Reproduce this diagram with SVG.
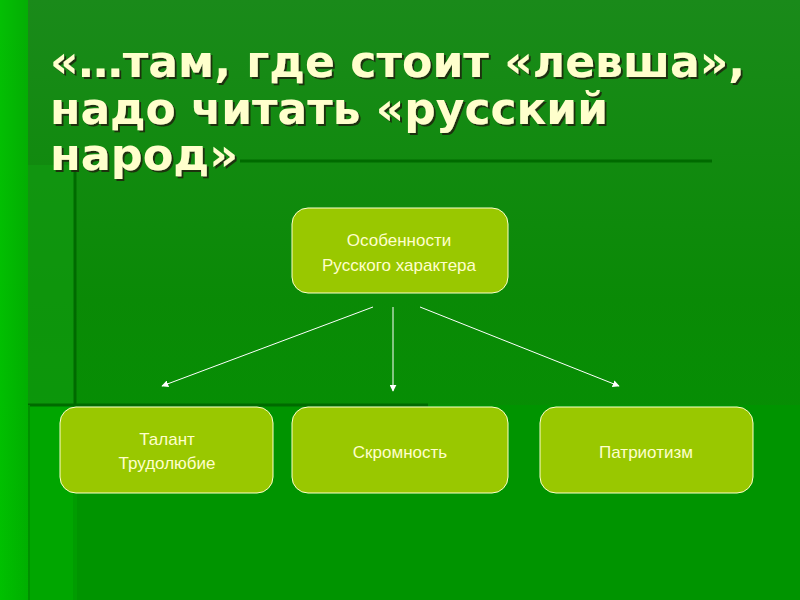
<svg xmlns="http://www.w3.org/2000/svg" width="800" height="600" viewBox="0 0 800 600">
<defs>
<linearGradient id="bg" x1="0" y1="0" x2="0" y2="1">
<stop offset="0" stop-color="#1a8a1a"/>
<stop offset="0.5" stop-color="#0a8a06"/>
<stop offset="1" stop-color="#009400"/>
</linearGradient>
<linearGradient id="leftbar" x1="0" y1="0" x2="1" y2="0">
<stop offset="0" stop-color="#00c800"/>
<stop offset="1" stop-color="#00b400"/>
</linearGradient>
<marker id="arr" viewBox="0 0 10 10" refX="9" refY="5" markerWidth="7" markerHeight="7" orient="auto" markerUnits="userSpaceOnUse">
<path d="M0,0 L10,5 L0,10 z" fill="#ffffff"/>
</marker>
<filter id="sh" x="-5%" y="-5%" width="110%" height="120%">
<feDropShadow dx="2" dy="2" stdDeviation="0.6" flood-color="#1a2a10" flood-opacity="0.9"/>
</filter>
</defs>
<style>
.title{font-family:"DejaVu Sans",Verdana,sans-serif;font-weight:bold;font-size:44px;fill:#ffffcc}
.node rect{fill:#99c800;stroke:#ffffcc;stroke-width:1}
.node text{font-family:"Liberation Sans",Arial,sans-serif;font-size:17px;fill:#ffffcc;text-anchor:middle}
.conn line{stroke:#ffffff;stroke-width:1;marker-end:url(#arr)}
.deco{stroke:#006a00;stroke-width:3;fill:none}
</style>
<rect width="800" height="600" fill="url(#bg)"/>
<rect x="0" y="0" width="28" height="600" fill="url(#leftbar)" opacity="0.85"/>
<rect x="28" y="165" width="47" height="240" fill="#12a012" opacity="0.5"/>
<rect x="75" y="405" width="725" height="195" fill="#009400"/>
<rect x="28" y="405" width="47" height="195" fill="#00a600"/>
<rect x="73" y="405" width="4" height="195" fill="#009c00"/>
<g id="decor">
<line class="deco" x1="240" y1="161" x2="712" y2="161"/>
<line class="deco" x1="75" y1="165" x2="75" y2="405"/>
<line class="deco" x1="28" y1="405" x2="428" y2="405"/>
<line x1="29" y1="405" x2="29" y2="600" stroke="#009000" stroke-width="2"/>
</g>
<g id="title" filter="url(#sh)">
<text class="title" x="50" y="77" textLength="695" lengthAdjust="spacingAndGlyphs">«…там, где стоит «левша»,</text>
<text class="title" x="50" y="124" textLength="558" lengthAdjust="spacingAndGlyphs">надо читать «русский</text>
<text class="title" x="50" y="170" textLength="188" lengthAdjust="spacingAndGlyphs">народ»</text>
</g>
<g id="n-top" class="node">
<rect x="292" y="208" width="216" height="85" rx="16"/>
<text x="399" y="246">Особенности</text>
<text x="399" y="271">Русского характера</text>
</g>
<g id="n-talant" class="node">
<rect x="60" y="407" width="213" height="86" rx="16"/>
<text x="167" y="445">Талант</text>
<text x="167" y="469">Трудолюбие</text>
</g>
<g id="n-skromnost" class="node">
<rect x="292" y="407" width="216" height="86" rx="16"/>
<text x="400" y="458">Скромность</text>
</g>
<g id="n-patriotizm" class="node">
<rect x="540" y="407" width="213" height="86" rx="16"/>
<text x="646" y="458">Патриотизм</text>
</g>
<g id="connectors" class="conn">
<line x1="373" y1="307" x2="162" y2="386"/>
<line x1="393" y1="307" x2="393" y2="391"/>
<line x1="420" y1="307" x2="619" y2="386"/>
</g>
</svg>
